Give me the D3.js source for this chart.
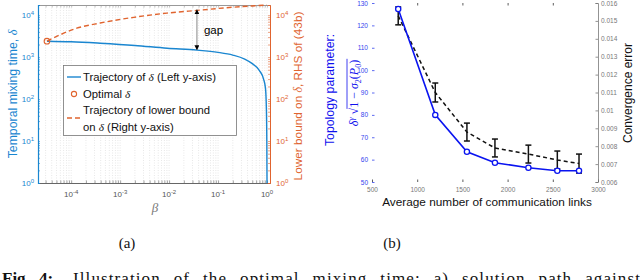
<!DOCTYPE html>
<html><head><meta charset="utf-8">
<script src="https://cdn.jsdelivr.net/npm/d3@7"></script>
<style>body{margin:0;background:#fff}svg{display:block}</style>
</head><body>
<svg id="c" width="640" height="280"></svg>
<script>
// ---------- Data (a) ----------
const betaBlue = [3.2e-5, 1e-4, 3.9e-4, 2e-3, 9.1e-3, 0.037, 0.1, 0.2, 0.35, 0.5, 0.7, 0.85, 0.93, 0.97, 0.99, 1.0];
const deltaBlue = [2400, 2330, 2150, 1900, 1630, 1470, 1300, 1120, 900, 700, 480, 300, 180, 60, 10, 1];
const betaRed = [3.2e-5, 1.3e-4, 3.9e-4, 1.9e-3, 9e-3, 0.043, 0.2, 1.0];
const boundRed = [2400, 4900, 6500, 8900, 11200, 13200, 15500, 17400];
const optBeta = [3.2e-5];
const optDelta = [2400];
const xTickExpA = [-4, -3, -2, -1, 0];
const yTickExpA = [0, 1, 2, 3, 4];
// ---------- Data (b) ----------
const links = [790, 1200, 1550, 1860, 2230, 2550, 2790];
const topo = [127.3, 80, 63.5, 58.6, 56.4, 55, 55];
const convErr = [0.01528, 0.0110, 0.00879, 0.0079, 0.00756, 0.00723, 0.00703];
const convErrHalf = [0.0005, 0.00053, 0.0005, 0.0005, 0.0005, 0.0005, 0.00053];
const xTicksB = [500, 1000, 1500, 2000, 2500, 3000];
const yTicksB = [50, 60, 70, 80, 90, 100, 110, 120, 130];
const y2TicksB = [0.006, 0.007, 0.008, 0.009, 0.01, 0.011, 0.012, 0.013, 0.014, 0.015, 0.016];
const y2TickLabels = ["0.006","0.007","0.008","0.009","0.01","0.011","0.012","0.013","0.014","0.015","0.016"];

const svg = d3.select("#c");
const BLUE = "#1a86d0", ORANGE = "#e0642f", GRAY = "#666";
const SANS = "Liberation Sans, Arial, sans-serif";
const SERIF = "Liberation Serif, Times New Roman, serif";

// ================= Chart (a) =================
const xA = d3.scaleLog().domain([2.1e-5, 1.15]).range([38, 270]);
const yA = d3.scaleLog().domain([1, 1.75e4]).range([183, 5]);
const gA = svg.append("g");

// minor vertical grid
const gridVals = [];
for (let e = -5; e <= 0; e++) for (let k = 1; k <= 9; k++) {
  const v = k * Math.pow(10, e);
  if (v >= xA.domain()[0] && v <= xA.domain()[1]) gridVals.push(v);
}
gA.append("g").selectAll("line").data(gridVals).join("line")
  .attr("x1", d => xA(d)).attr("x2", d => xA(d)).attr("y1", 5).attr("y2", 183)
  .attr("stroke", "#d6d6d6").attr("stroke-width", 0.6).attr("stroke-dasharray", "1,1.5");

// bottom axis
const axB = d3.axisBottom(xA).tickValues(gridVals).tickSize(-2.5).tickFormat("");
const gxa = gA.append("g").attr("transform", "translate(0,183)").call(axB);
gxa.select(".domain").attr("stroke", GRAY);
gxa.selectAll(".tick line").attr("stroke", GRAY).attr("stroke-width", 0.6);
// top border
const axT = d3.axisTop(xA).tickValues(gridVals).tickSize(-2.5).tickFormat("");
const gxt = gA.append("g").attr("transform", "translate(0,5)").call(axT);
gxt.select(".domain").attr("stroke", "#999");
gxt.selectAll(".tick line").attr("stroke", "#999").attr("stroke-width", 0.6);

// x tick labels
xTickExpA.forEach(e => {
  const t = gA.append("text").attr("x", xA(Math.pow(10, e))).attr("y", 197)
    .attr("text-anchor", "middle").attr("font-family", SANS).attr("font-size", 8).attr("fill", "#555");
  t.append("tspan").text("10");
  t.append("tspan").attr("dy", -3.5).attr("font-size", 6).text(e < 0 ? "-" + (-e) : e);
});

// y minor ticks values
const yMinor = [];
for (let e = 0; e <= 4; e++) for (let k = 1; k <= 9; k++) {
  const v = k * Math.pow(10, e);
  if (v <= yA.domain()[1]) yMinor.push(v);
}
// left axis (blue)
const gyl = gA.append("g").attr("transform", "translate(38,0)")
  .call(d3.axisLeft(yA).tickValues(yMinor).tickSize(-2).tickFormat(""));
gyl.select(".domain").attr("stroke", BLUE).attr("stroke-width", 1.2);
gyl.selectAll(".tick line").attr("stroke", BLUE).attr("stroke-width", 0.6);
// right axis (orange)
const gyr = gA.append("g").attr("transform", "translate(270,0)")
  .call(d3.axisRight(yA).tickValues(yMinor).tickSize(-2).tickFormat(""));
gyr.select(".domain").attr("stroke", ORANGE).attr("stroke-width", 1);
gyr.selectAll(".tick line").attr("stroke", ORANGE).attr("stroke-width", 0.6);

yTickExpA.forEach(e => {
  const y = yA(Math.pow(10, e)) + 3;
  const t = gA.append("text").attr("x", 34).attr("y", y).attr("text-anchor", "end")
    .attr("font-family", SANS).attr("font-size", 8).attr("fill", BLUE);
  t.append("tspan").text("10");
  t.append("tspan").attr("dy", -3.5).attr("font-size", 6).text(e);
  const t2 = gA.append("text").attr("x", 276).attr("y", y).attr("text-anchor", "start")
    .attr("font-family", SANS).attr("font-size", 8).attr("fill", ORANGE);
  t2.append("tspan").text("10");
  t2.append("tspan").attr("dy", -3.5).attr("font-size", 6).text(e);
});

// curves
const lineA = d3.line().x(d => xA(d[0])).y(d => yA(d[1])).curve(d3.curveMonotoneX);
gA.append("path").datum(betaBlue.map((b, i) => [b, deltaBlue[i]]))
  .attr("d", lineA).attr("fill", "none").attr("stroke", BLUE).attr("stroke-width", 1.4);
gA.append("path").datum(betaRed.map((b, i) => [b, boundRed[i]]))
  .attr("d", lineA).attr("fill", "none").attr("stroke", ORANGE).attr("stroke-width", 1.4)
  .attr("stroke-dasharray", "5,3");
gA.selectAll("circle.opt").data(optBeta).join("circle").attr("class", "opt")
  .attr("cx", d => xA(d)).attr("cy", (d, i) => yA(optDelta[i])).attr("r", 2.8)
  .attr("fill", "none").attr("stroke", ORANGE).attr("stroke-width", 1.1);

// gap arrow
const gapX = xA(0.037);
const defs = svg.append("defs");
defs.append("marker").attr("id", "ah").attr("viewBox", "0 0 10 10").attr("refX", 9).attr("refY", 5)
  .attr("markerWidth", 5).attr("markerHeight", 5).attr("orient", "auto-start-reverse")
  .append("path").attr("d", "M0,0 L10,5 L0,10 z").attr("fill", "#000");
gA.append("line").attr("x1", gapX).attr("x2", gapX).attr("y1", yA(13500)).attr("y2", yA(1500))
  .attr("stroke", "#888").attr("stroke-width", 1)
  .attr("marker-start", "url(#ah)").attr("marker-end", "url(#ah)");
gA.append("text").attr("x", gapX + 7).attr("y", 34).attr("font-family", SANS).attr("font-size", 11.5)
  .attr("fill", "#000").text("gap");

// legend
const lg = gA.append("g");
lg.append("rect").attr("x", 63.5).attr("y", 65.5).attr("width", 173).attr("height", 70)
  .attr("fill", "#fff").attr("stroke", "#777").attr("stroke-width", 0.8);
lg.append("line").attr("x1", 67).attr("x2", 81).attr("y1", 77).attr("y2", 77).attr("stroke", BLUE).attr("stroke-width", 1.4);
lg.append("circle").attr("cx", 74).attr("cy", 94).attr("r", 2.6).attr("fill", "none").attr("stroke", ORANGE).attr("stroke-width", 1.1);
lg.append("line").attr("x1", 67).attr("x2", 81).attr("y1", 118).attr("y2", 118).attr("stroke", ORANGE)
  .attr("stroke-width", 1.4).attr("stroke-dasharray", "5,3");
function legText(y, parts) {
  const t = lg.append("text").attr("x", 83).attr("y", y).attr("font-family", SANS).attr("font-size", 11.3).attr("fill", "#111");
  parts.forEach(p => {
    const s = t.append("tspan").text(p[0]);
    if (p[1]) s.attr("font-family", SERIF).attr("font-style", "italic");
  });
}
legText(81, [["Trajectory of "], ["δ", 1], [" (Left y-axis)"]]);
legText(98, [["Optimal "], ["δ", 1]]);
legText(114, [["Trajectory of lower bound"]]);
legText(131, [["on "], ["δ", 1], [" (Right y-axis)"]]);

// axis labels (a)
const ylA = gA.append("text").attr("transform", "translate(17,94) rotate(-90)").attr("text-anchor", "middle")
  .attr("font-family", SANS).attr("font-size", 12.3).attr("fill", BLUE);
ylA.append("tspan").text("Temporal mixing time, ");
ylA.append("tspan").attr("font-family", SERIF).attr("font-style", "italic").text("δ");
const yrA = gA.append("text").attr("transform", "translate(302,96) rotate(-90)").attr("text-anchor", "middle")
  .attr("font-family", SANS).attr("font-size", 11.8).attr("fill", ORANGE);
yrA.append("tspan").text("Lower bound on ");
yrA.append("tspan").attr("font-family", SERIF).attr("font-style", "italic").text("δ");
yrA.append("tspan").text(", RHS of (43b)");
gA.append("text").attr("x", 155).attr("y", 212).attr("text-anchor", "middle").attr("font-family", SERIF)
  .attr("font-style", "italic").attr("font-size", 13).attr("fill", "#777").text("β");

// ================= Chart (b) =================
const xB = d3.scaleLinear().domain([500, 3000]).range([372, 598]);
const yB = d3.scaleLinear().domain([50, 130]).range([182, 3]);
const yB2 = d3.scaleLinear().domain([0.006, 0.016]).range([182, 3]);
const gB = svg.append("g");

// x axis ticks (no domain line)
const gxb = gB.append("g").attr("transform", "translate(0,182)")
  .call(d3.axisBottom(xB).tickValues(xTicksB).tickSize(-2.5).tickPadding(5).tickFormat(d3.format("d")));
gxb.select(".domain").remove();
gxb.selectAll(".tick line").attr("stroke", "#333").attr("stroke-width", 0.8);
gxb.selectAll("text").attr("font-family", SANS).attr("font-size", 6.5).attr("fill", "#777");
const gxbt = gB.append("g").attr("transform", "translate(0,3)")
  .call(d3.axisTop(xB).tickValues(xTicksB.slice(1, 5)).tickSize(-2.5).tickFormat(""));
gxbt.select(".domain").remove();
gxbt.selectAll(".tick line").attr("stroke", "#333").attr("stroke-width", 0.8);

// left axis
const gyb = gB.append("g").attr("transform", "translate(372,0)")
  .call(d3.axisLeft(yB).tickValues(yTicksB).tickSize(-2.5).tickPadding(4));
gyb.select(".domain").remove();
gyb.selectAll(".tick line").attr("stroke", "#3344ee").attr("stroke-width", 0.8);
gyb.selectAll("text").attr("font-family", SANS).attr("font-size", 6.5).attr("fill", "#3344ee");

// right axis
const gyb2 = gB.append("g").attr("transform", "translate(598,0)")
  .call(d3.axisRight(yB2).tickValues(y2TicksB).tickSize(-2.5).tickPadding(3)
    .tickFormat((d, i) => y2TickLabels[i]));
gyb2.select(".domain").attr("stroke", "#777").attr("stroke-width", 0.8);
gyb2.selectAll(".tick line").attr("stroke", "#777").attr("stroke-width", 0.8);
gyb2.selectAll("text").attr("font-family", SANS).attr("font-size", 6.5).attr("fill", "#777");

// dashed convergence error with error bars
const lineErr = d3.line().x((d, i) => xB(links[i])).y(d => yB2(d));
gB.append("path").datum(convErr).attr("d", lineErr).attr("fill", "none").attr("stroke", "#111")
  .attr("stroke-width", 1.5).attr("stroke-dasharray", "4,3");
const eb = gB.append("g").selectAll("g").data(convErr).join("g");
eb.append("line").attr("x1", (d, i) => xB(links[i])).attr("x2", (d, i) => xB(links[i]))
  .attr("y1", (d, i) => yB2(d + convErrHalf[i])).attr("y2", (d, i) => yB2(d - convErrHalf[i]))
  .attr("stroke", "#111").attr("stroke-width", 1.5);
[1, -1].forEach(s => {
  eb.append("line").attr("x1", (d, i) => xB(links[i]) - 3).attr("x2", (d, i) => xB(links[i]) + 3)
    .attr("y1", (d, i) => yB2(d + s * convErrHalf[i])).attr("y2", (d, i) => yB2(d + s * convErrHalf[i]))
    .attr("stroke", "#111").attr("stroke-width", 1.5);
});

// blue topology line
const lineTopo = d3.line().x((d, i) => xB(links[i])).y(d => yB(d));
gB.append("path").datum(topo).attr("d", lineTopo).attr("fill", "none").attr("stroke", "#0a14f0").attr("stroke-width", 1.6);
gB.selectAll("circle.tp").data(topo).join("circle").attr("class", "tp")
  .attr("cx", (d, i) => xB(links[i])).attr("cy", d => yB(d)).attr("r", 2.6)
  .attr("fill", "#fff").attr("stroke", "#0a14f0").attr("stroke-width", 1.3);

// labels (b)
gB.append("text").attr("x", 487).attr("y", 206).attr("text-anchor", "middle").attr("font-family", SANS)
  .attr("font-size", 11.8).attr("fill", "#111").text("Average number of communication links");
gB.append("text").attr("transform", "translate(632,93) rotate(-90)").attr("text-anchor", "middle")
  .attr("font-family", SANS).attr("font-size", 12).attr("fill", "#111").text("Convergence error");
gB.append("text").attr("transform", "translate(334,90) rotate(-90)").attr("text-anchor", "middle")
  .attr("font-family", SANS).attr("font-size", 12.3).attr("fill", "#1010ee").text("Topology parameter:");
// formula line
const fg = gB.append("g").attr("transform", "translate(354,93) rotate(-90)");
const ft = fg.append("text").attr("font-family", SERIF).attr("font-size", 12).attr("fill", "#1010ee");
ft.append("tspan").attr("font-style", "italic").text("δ");
ft.append("tspan").attr("dy", -4).attr("font-size", 8).attr("font-style", "italic").text("γ");
ft.append("tspan").attr("dy", 4).text(" √");
ft.append("tspan").text("1 − ");
ft.append("tspan").attr("font-style", "italic").text("σ");
ft.append("tspan").attr("dy", 3).attr("font-size", 8).text("2");
ft.append("tspan").attr("dy", -3).text("(");
ft.append("tspan").attr("font-style", "italic").text("P");
ft.append("tspan").attr("dy", 3).attr("font-size", 8).text("0");
ft.append("tspan").attr("dy", -3).text(")");
const fw = ft.node().getComputedTextLength();
ft.attr("x", -fw / 2).attr("y", 4);
const startOver = ft.node().getStartPositionOfChar(4).x;
fg.append("line").attr("x1", startOver - 1).attr("x2", fw / 2 + 1).attr("y1", -7).attr("y2", -7)
  .attr("stroke", "#1010ee").attr("stroke-width", 0.8);

// ================= Captions =================
svg.append("text").attr("x", 127).attr("y", 248).attr("text-anchor", "middle").attr("font-family", SERIF)
  .attr("font-size", 15).attr("fill", "#111").text("(a)");
svg.append("text").attr("x", 392).attr("y", 248).attr("text-anchor", "middle").attr("font-family", SERIF)
  .attr("font-size", 15).attr("fill", "#111").text("(b)");
svg.append("text").attr("x", 2).attr("y", 284).attr("font-family", SERIF).attr("font-weight", "bold")
  .attr("font-size", 17).attr("fill", "#111").attr("word-spacing", 5).text("Fig. 4:");
const cap = svg.append("text").attr("x", 73).attr("y", 284).attr("font-family", SERIF)
  .attr("font-size", 17).attr("fill", "#111").attr("letter-spacing", 1.1)
  .text("Illustration of the optimal mixing time: a) solution path against");
const capW = cap.node().getComputedTextLength();
const nSpaces = (cap.text().match(/ /g) || []).length;
cap.attr("word-spacing", Math.max(0, (568 - capW) / nSpaces));
</script>
</body></html>
